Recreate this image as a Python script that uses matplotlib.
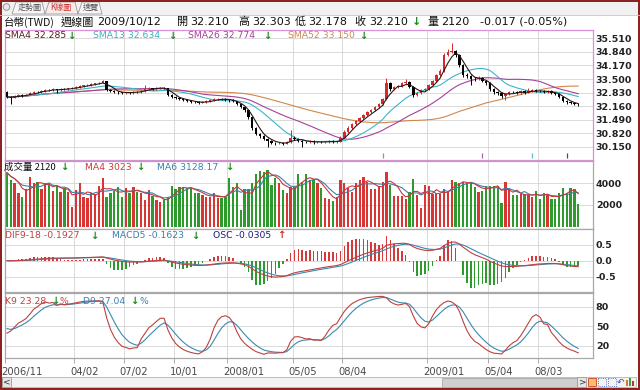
import numpy as np
import pandas as pd
import matplotlib
matplotlib.use("Agg")
import matplotlib.pyplot as plt
from matplotlib.patches import Rectangle, Polygon, Circle
import matplotlib.transforms as mtransforms

# ---------------- data (weekly TWD, 2006/11 .. 2009/10/12) ----------------
closes = [32.62, 32.58, 32.66, 32.70, 32.68, 32.72, 32.80, 32.86, 32.84, 32.92,
          32.96, 32.95, 33.00, 32.94, 33.02, 33.00, 33.04, 33.06, 33.10, 33.14,
          33.18, 33.20, 33.24, 33.28, 33.32, 33.38, 32.98, 32.92, 32.86, 32.84,
          32.80, 32.84, 32.82, 32.88, 32.86, 32.90, 33.00, 33.04, 33.02, 33.06,
          33.08, 33.04, 32.70, 32.62, 32.55, 32.50, 32.45, 32.42, 32.38, 32.35,
          32.33, 32.36, 32.40, 32.45, 32.50, 32.52, 32.50, 32.48, 32.45, 32.40,
          32.25, 32.10, 31.95, 31.60, 31.10, 30.80, 30.70, 30.55, 30.45, 30.35,
          30.32, 30.35, 30.30, 30.38, 30.60, 30.55, 30.45, 30.40, 30.38, 30.42,
          30.36, 30.40, 30.38, 30.40, 30.42, 30.38, 30.40, 30.60, 30.90, 31.10,
          31.25, 31.40, 31.55, 31.70, 31.85, 31.95, 32.10, 32.25, 32.50, 33.30,
          33.00, 33.10, 33.15, 33.30, 33.35, 33.10, 32.70, 32.80, 32.95, 33.00,
          33.20, 33.40, 33.70, 33.90, 34.70, 34.85, 34.90, 34.70, 34.20, 33.70,
          33.65, 33.50, 33.50, 33.55, 33.40, 33.30, 33.00, 32.85, 32.80, 32.65,
          32.75, 32.85, 32.85, 32.80, 32.90, 32.83, 32.90, 32.95, 32.90, 32.90,
          32.85, 32.90, 32.80, 32.77, 32.61, 32.42, 32.35, 32.30, 32.28, 32.21]

opens = [32.85, 32.62, 32.58, 32.66, 32.70, 32.68, 32.72, 32.80, 32.86, 32.84,
         32.92, 32.96, 32.95, 33.00, 32.94, 33.02, 33.00, 33.04, 33.06, 33.10,
         33.14, 33.18, 33.20, 33.24, 33.28, 33.32, 33.38, 32.98, 32.92, 32.86,
         32.84, 32.80, 32.84, 32.82, 32.88, 32.86, 32.90, 33.00, 33.04, 33.02,
         33.06, 33.08, 33.04, 32.70, 32.62, 32.55, 32.50, 32.45, 32.42, 32.38,
         32.35, 32.33, 32.36, 32.40, 32.45, 32.50, 32.52, 32.50, 32.48, 32.45,
         32.40, 32.25, 32.10, 31.95, 31.60, 31.10, 30.80, 30.70, 30.55, 30.45,
         30.35, 30.32, 30.35, 30.30, 30.38, 30.60, 30.55, 30.45, 30.40, 30.38,
         30.42, 30.36, 30.40, 30.38, 30.40, 30.42, 30.38, 30.40, 30.60, 30.90,
         31.10, 31.25, 31.40, 31.55, 31.70, 31.85, 31.95, 32.10, 32.25, 32.50,
         33.30, 33.00, 33.10, 33.15, 33.30, 33.35, 33.10, 32.70, 32.80, 32.95,
         33.00, 33.20, 33.40, 33.70, 33.90, 34.70, 34.85, 34.90, 34.70, 34.20,
         33.70, 33.65, 33.50, 33.50, 33.55, 33.40, 33.30, 33.00, 32.85, 32.80,
         32.65, 32.75, 32.85, 32.85, 32.80, 32.90, 32.83, 32.90, 32.95, 32.90,
         32.90, 32.85, 32.90, 32.80, 32.77, 32.61, 32.42, 32.35, 32.30, 32.21]

highs = [32.92, 32.66, 32.70, 32.75, 32.74, 32.76, 32.84, 32.90, 32.92, 32.96,
         33.00, 33.02, 33.05, 33.03, 33.06, 33.06, 33.08, 33.10, 33.14, 33.18,
         33.22, 33.25, 33.28, 33.32, 33.36, 33.45, 33.40, 33.02, 32.96, 32.90,
         32.88, 32.88, 32.88, 32.92, 32.92, 32.95, 33.20, 33.09, 33.08, 33.10,
         33.12, 33.12, 33.06, 32.74, 32.66, 32.59, 32.54, 32.50, 32.46, 32.42,
         32.39, 32.40, 32.44, 32.49, 32.55, 32.57, 32.56, 32.54, 32.52, 32.49,
         32.43, 32.28, 32.13, 31.98, 31.63, 31.15, 30.85, 30.75, 30.60, 30.50,
         30.40, 30.40, 30.40, 30.43, 31.00, 30.66, 30.58, 30.50, 30.45, 30.47,
         30.46, 30.45, 30.44, 30.45, 30.47, 30.46, 30.45, 30.66, 30.96, 31.16,
         31.30, 31.46, 31.60, 31.76, 31.90, 32.02, 32.16, 32.30, 32.56, 33.55,
         33.35, 33.16, 33.22, 33.36, 33.50, 33.40, 33.14, 32.88, 33.00, 33.08,
         33.26, 33.46, 33.76, 33.98, 34.80, 35.00, 35.30, 34.96, 34.76, 34.25,
         33.78, 33.70, 33.62, 33.64, 33.60, 33.46, 33.34, 33.05, 32.90, 32.85,
         32.80, 32.90, 32.92, 32.90, 32.95, 32.94, 33.05, 33.00, 33.00, 32.96,
         32.94, 32.95, 32.94, 32.85, 32.80, 32.64, 32.47, 32.40, 32.35, 32.303]

lows = [32.55, 32.25, 32.54, 32.62, 32.63, 32.64, 32.69, 32.76, 32.80, 32.80,
        32.88, 32.90, 32.92, 32.80, 32.90, 32.96, 32.97, 33.00, 33.03, 33.07,
        33.11, 33.14, 33.17, 33.21, 33.25, 33.28, 32.90, 32.86, 32.80, 32.78,
        32.74, 32.76, 32.77, 32.78, 32.81, 32.82, 32.87, 32.96, 32.97, 32.98,
        33.02, 32.99, 32.65, 32.57, 32.50, 32.45, 32.40, 32.37, 32.33, 32.30,
        32.28, 32.29, 32.32, 32.36, 32.41, 32.46, 32.45, 32.43, 32.35, 32.34,
        32.20, 32.05, 31.88, 31.50, 31.00, 30.72, 30.60, 30.48, 30.15, 30.28,
        30.25, 30.27, 30.24, 30.26, 30.35, 30.48, 30.38, 30.15, 30.32, 30.33,
        30.30, 30.31, 30.32, 30.33, 30.35, 30.32, 30.33, 30.37, 30.56, 30.85,
        31.05, 31.20, 31.35, 31.50, 31.65, 31.80, 31.90, 32.05, 32.20, 32.45,
        32.92, 32.95, 33.05, 33.10, 33.25, 33.05, 32.60, 32.64, 32.76, 32.90,
        32.96, 33.15, 33.35, 33.65, 33.85, 34.62, 34.78, 34.60, 34.10, 33.60,
        33.55, 33.20, 33.42, 33.45, 33.35, 33.22, 32.92, 32.78, 32.72, 32.58,
        32.45, 32.70, 32.80, 32.75, 32.76, 32.78, 32.80, 32.85, 32.85, 32.84,
        32.80, 32.80, 32.75, 32.70, 32.55, 32.36, 32.28, 32.24, 32.22, 32.178]

volumes = [4980, 4300, 3990, 3130, 2760, 3440, 4600, 4000, 4140, 3440,
           3990, 3990, 3320, 3840, 3230, 3530, 3230, 1790, 3380, 3990,
           2760, 2670, 3070, 2980, 3750, 4450, 2760, 3070, 3290, 3680,
           2760, 3530, 3130, 3620, 3230, 3070, 2450, 3380, 2830, 2450,
           2300, 2450, 2760, 3750, 3440, 3680, 3620, 3530, 3530, 3070,
           3070, 2910, 2700, 2700, 3130, 2610, 2610, 2760, 4450, 3680,
           3990, 1530, 3440, 3440, 3990, 4900, 5140, 5070, 5250, 3840,
           4450, 3990, 3380, 3070, 3680, 3680, 4820, 4140, 4820, 4300,
           4300, 3990, 3530, 2610, 2520, 2390, 2700, 4300, 3990, 3530,
           3230, 3990, 4300, 4540, 4140, 3440, 3440, 3750, 4140, 5070,
           3840, 2830, 2830, 2830, 2520, 3230, 4380, 2910, 1710, 3840,
           3750, 3010, 3070, 3010, 3440, 3230, 4300, 4140, 3990, 4140,
           3990, 3990, 3680, 3230, 3320, 3780, 3750, 3750, 3750, 2140,
           4140, 3530, 2910, 2910, 2980, 2980, 2910, 2760, 3320, 2520,
           3130, 3010, 2520, 2520, 3070, 3530, 3070, 3530, 3440, 2120]

tick_bars = [0, 18, 31, 44, 58, 75, 88, 110, 126, 139]
tick_labels = ['2006/11', '04/02', '07/02', '10/01', '2008/01', '05/05',
               '08/04', '2009/01', '05/04', '08/03']
price_ticks = [30.150, 30.820, 31.490, 32.160, 32.830, 33.500, 34.170, 34.840, 35.510]
volume_ticks = [2000, 4000]
macd_ticks = [-0.5, 0.0, 0.5]
kd_ticks = [20, 50, 80]
event_bars = [98, 124, 137, 146]
event_colors = ['#c87898', '#b060b0', '#60b8c8', '#803838']

# ---------------- indicators ----------------
c = pd.Series(closes, dtype=float)
o = np.array(opens, dtype=float)
h = pd.Series(highs, dtype=float)
l = pd.Series(lows, dtype=float)
v = pd.Series(volumes, dtype=float)
N = len(c)
xs = np.arange(N)

sma4 = c.rolling(4, min_periods=1).mean()
sma13 = c.rolling(13, min_periods=1).mean()
sma26 = c.rolling(26, min_periods=1).mean()
sma52 = c.rolling(52, min_periods=1).mean()
vma4 = v.rolling(4, min_periods=1).mean()
vma6 = v.rolling(6, min_periods=1).mean()

dif = c.ewm(span=9, adjust=False).mean() - c.ewm(span=18, adjust=False).mean()
macd = dif.ewm(span=5, adjust=False).mean()
osc = dif - macd

hh = h.rolling(9, min_periods=1).max()
ll = l.rolling(9, min_periods=1).min()
rsv = ((c - ll) / (hh - ll) * 100).fillna(50).values
K = np.zeros(N); D = np.zeros(N)
k, d = 50.0, 50.0
for i in range(N):
    k = k * 2 / 3 + rsv[i] / 3
    d = d * 2 / 3 + k / 3
    K[i], D[i] = k, d

# ---------------- figure ----------------
W, H = 640, 390
fig = plt.figure(figsize=(6.4, 3.9), dpi=100)
fig.patch.set_facecolor('white')

PX0, PX1 = 5, 593
XL, XR = -0.26, 152.86
RED = '#d42a2a'
GREEN = '#2e9a2e'
GRID = '#d4d4d4'
FAM = ['DejaVu Sans', 'Noto Sans CJK TC']
CJK = ['Noto Sans CJK TC', 'DejaVu Sans']
LS = 6.7   # legend font size


def panel(y0, y1, border='#a8a8a8'):
    ax = fig.add_axes([PX0 / W, 1 - y1 / H, (PX1 - PX0) / W, (y1 - y0) / H])
    ax.set_xlim(XL, XR)
    ax.set_facecolor('white')
    for s in ax.spines.values():
        s.set_color(border)
        s.set_linewidth(0.9)
    ax.set_xticks([t - 0.5 for t in tick_bars])
    ax.tick_params(axis='x', length=0, labelbottom=False)
    ax.tick_params(axis='y', left=False, labelleft=False, right=False,
                   labelright=True, length=0, pad=2, labelcolor='#222222')
    ax.grid(True, color=GRID, lw=0.6)
    ax.set_axisbelow(True)
    return ax


def set_yt(ax, ticks, fmt):
    ax.set_yticks(ticks, [fmt.format(t) for t in ticks],
                  fontsize=6.8, fontweight='bold', family='DejaVu Sans')


# price panel
axp = panel(30, 160, border='#d890d8')
axp.set_ylim(29.492, 35.927)
set_yt(axp, price_ticks, '{:.3f}')
cl = np.array(closes)
ccol = np.where(cl > o, RED, 'black')
axp.vlines(xs, l, h, colors=ccol, lw=0.7, zorder=3)
body_lo = np.minimum(o, cl)
body_h = np.maximum(np.abs(cl - o), 0.02)
axp.bar(xs, body_h, bottom=body_lo, width=0.62, color=ccol, zorder=3, lw=0)
axp.plot(xs, sma52, color='#d2874a', lw=0.8, zorder=2)
axp.plot(xs, sma26, color='#a8409a', lw=0.8, zorder=2)
axp.plot(xs, sma13, color='#3cb6c8', lw=0.8, zorder=2)
axp.plot(xs, sma4, color='#2a1616', lw=0.8, zorder=4)
axp.vlines(event_bars, 0.015, 0.055, colors=event_colors, lw=0.9,
           transform=axp.get_xaxis_transform())

# volume panel
axv = panel(161, 229)
axv.set_ylim(-212, 6055)
set_yt(axv, volume_ticks, '{:d}')
vcol = np.where(cl > o, '#d93535', GREEN)
axv.bar(xs, v, width=0.6, color=vcol, lw=0, zorder=2)
axv.plot(xs, vma6, color='#3a80b0', lw=0.8, zorder=3)
axv.plot(xs, vma4, color='#c83a3a', lw=0.8, zorder=3)

# MACD panel
axm = panel(229, 292)
axm.set_ylim(-0.987, 1.0)
set_yt(axm, macd_ticks, '{:.1f}')
osc_scale = 0.86 / np.abs(osc).max()
ocol = np.where(osc >= 0, '#d43a3a', GREEN)
axm.bar(xs, osc * osc_scale, width=0.42, color=ocol, lw=0, zorder=2)
axm.plot(xs, macd, color='#3a8ab0', lw=0.8, zorder=3)
axm.plot(xs, dif, color='#c04040', lw=0.8, zorder=3)

# KD panel
axk = panel(293, 358)
axk.set_ylim(1.68, 100.9)
set_yt(axk, kd_ticks, '{:d}')
axk.plot(xs, D, color='#3a8ab0', lw=0.8, zorder=3)
axk.plot(xs, K, color='#c04040', lw=0.8, zorder=3)

# x tick marks and labels below KD panel
xt = axk.get_xaxis_transform()
axk.vlines([t - 0.5 for t in tick_bars], -0.07, 0, colors='#a8a8a8', lw=0.7,
           transform=xt, clip_on=False)
lab_tr = mtransforms.offset_copy(xt, fig=fig, x=-4, y=0, units='dots')
for t, s in zip(tick_bars, tick_labels):
    axk.text(t - 0.5, -0.215, s, transform=lab_tr, ha='left', va='center',
             fontsize=7.2, color='#4a4a4a', family='DejaVu Sans')

# ---------------- overlay (pixel coords) ----------------
ov = fig.add_axes([0, 0, 1, 1], zorder=10)
ov.set_xlim(0, W)
ov.set_ylim(H, 0)
ov.axis('off')
ov.patch.set_alpha(0)


def txt(x, y, s, color='#111111', size=LS, fam=FAM, **kw):
    ov.text(x, y, s, color=color, fontsize=size, family=fam,
            ha='left', va='center', **kw)


def arrow(x, y, up=False, size=7.2):
    ov.text(x, y, '↑' if up else '↓', color=RED if up else '#1f8a1f',
            fontsize=size, fontweight='bold', family='DejaVu Sans',
            ha='left', va='center')


# tab strip
ov.add_patch(Rectangle((0, 0), W, 15, fc='#f1f1f1', ec='none'))
ov.plot([0, W], [14.5, 14.5], color='#c8c8c8', lw=0.6)
ov.add_patch(Circle((6.5, 7), 3.3, fc='#e8e8e8', ec='#8a8a8a', lw=0.6))
ov.add_patch(Polygon([(12, 14), (16, 2), (42, 2), (45, 14)], closed=True,
                     fc='#f6f6f6', ec='#9a9a9a', lw=0.6))
ov.add_patch(Polygon([(45, 14), (49, 2), (75, 2), (78, 14)], closed=True,
                     fc='#fbeaea', ec='#9a9a9a', lw=0.6))
ov.add_patch(Polygon([(78, 14), (82, 2), (99, 2), (102, 14)], closed=True,
                     fc='#f6f6f6', ec='#9a9a9a', lw=0.6))
txt(18, 7.5, '走勢圖', color='#555555', size=5.8, fam=CJK)
txt(50, 7.5, 'K線圖', color='#cc3030', size=5.8, fam=CJK)
txt(83, 7.5, '速覽', color='#555555', size=5.8, fam=CJK)

# header row
HY = 22
HS = 8.0
txt(4, HY, '台幣(TWD)', size=7.6, fam=CJK)
txt(61, HY, '週線圖', size=HS, fam=CJK)
txt(97, HY, '2009/10/12', size=HS)
txt(177, HY, '開', size=HS, fam=CJK)
txt(190, HY, '32.210', size=HS)
txt(238, HY, '高', size=HS, fam=CJK)
txt(252, HY, '32.303', size=HS)
txt(295, HY, '低', size=HS, fam=CJK)
txt(308, HY, '32.178', size=HS)
txt(354, HY, '收', size=HS, fam=CJK)
txt(369, HY, '32.210', size=HS)
arrow(412, HY, size=8.0)
txt(427, HY, '量', size=HS, fam=CJK)
txt(441, HY, '2120', size=HS)
txt(480, HY, '-0.017 (-0.05%)', size=HS)

# panel legends
PY = 35.5
txt(5, PY, 'SMA4 32.285', color='#5a1c1c')
arrow(67, PY)
txt(93, PY, 'SMA13 32.634', color='#3ab0c2')
arrow(168, PY)
txt(188, PY, 'SMA26 32.774', color='#a8409a')
arrow(263, PY)
txt(288, PY, 'SMA52 33.150', color='#d2874a')
arrow(359, PY)

VY = 167
txt(4, VY, '成交量 2120', color='#111111', fam=CJK, size=6.8)
arrow(60, VY)
txt(85, VY, 'MA4 3023', color='#c83a3a')
arrow(136, VY)
txt(157, VY, 'MA6 3128.17', color='#3a80b0')
arrow(225, VY)

MY = 235.5
txt(5, MY, 'DIF9-18 -0.1927', color='#c04040')
arrow(90, MY)
txt(112, MY, 'MACD5 -0.1623', color='#3a80b0')
arrow(191, MY)
txt(213, MY, 'OSC -0.0305', color='#1c1c80')
arrow(277, MY, up=True)

KY = 301
txt(5, KY, 'K9 23.28', color='#c04040')
arrow(51, KY)
txt(60, KY, '%', color='#c04040')
txt(83, KY, 'D9 27.04', color='#3a80b0')
arrow(130, KY)
txt(139, KY, '%', color='#3a80b0')

# scroll bar
ov.add_patch(Rectangle((2, 377), 634, 10, fc='#f2f2f2', ec='#b4b4b4', lw=0.6))
ov.add_patch(Rectangle((2, 377), 9, 10, fc='#e6e6e6', ec='#9a9a9a', lw=0.6))
txt(3.5, 382, '<', size=6.5, color='#333333')
ov.add_patch(Rectangle((442, 378), 135, 8.5, fc='#cfcfcf', ec='#a8a8a8', lw=0.6))
ov.add_patch(Rectangle((577, 377), 9, 10, fc='#e6e6e6', ec='#9a9a9a', lw=0.6))
txt(579, 382, '>', size=6.5, color='#333333')
ov.add_patch(Rectangle((588, 378), 8, 8, fc='#f6c070', ec='#d04020', lw=0.6))
ov.add_patch(Rectangle((598, 378), 8, 8, fc='none', ec='#3050c0', lw=0.6, ls=':'))
ov.add_patch(Rectangle((608, 378), 8, 8, fc='none', ec='#3050c0', lw=0.6, ls=':'))
txt(617, 382, '↶', size=6.5, color='#3050c0')
ov.add_patch(Rectangle((626, 380), 2, 6, fc='#d08020', ec='none'))
ov.add_patch(Rectangle((629, 378), 2, 8, fc='#40a040', ec='none'))
ov.add_patch(Rectangle((632, 381), 2, 5, fc='#c03030', ec='none'))

# outer frame
ov.add_patch(Rectangle((0.8, 0.8), W - 1.6, H - 1.6, fc='none', ec='#8a1c1c', lw=1.4))

fig.savefig('out.png', dpi=100, facecolor=fig.get_facecolor())
